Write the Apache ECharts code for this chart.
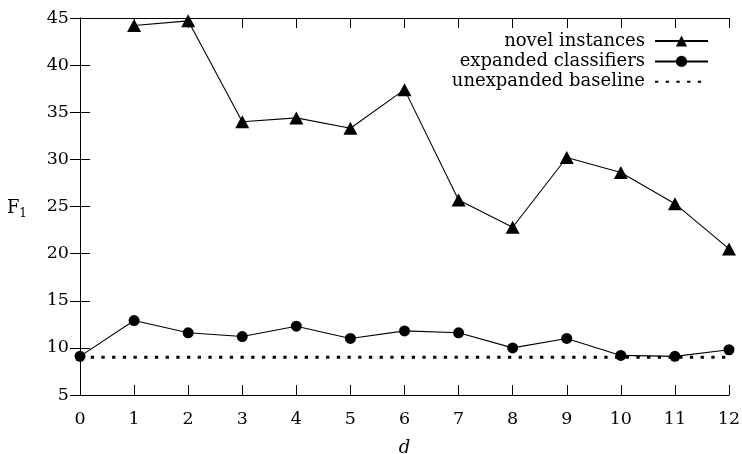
<!DOCTYPE html>
<html>
<head>
<meta charset="utf-8">
<script src="https://cdn.jsdelivr.net/npm/echarts@6/dist/echarts.min.js"></script>
<style>
html,body{margin:0;padding:0;background:#fff;}
#chart{width:742px;height:454px;}
</style>
</head>
<body>
<div id="chart"></div>
<script>
// ---- data ----
const dValues = [0, 1, 2, 3, 4, 5, 6, 7, 8, 9, 10, 11, 12];
const novelInstances = [null, 44.2, 44.7, 34.0, 34.4, 33.3, 37.4, 25.7, 22.8, 30.2, 28.6, 25.3, 20.5];
const expandedClassifiers = [9.1, 12.9, 11.6, 11.2, 12.3, 11.0, 11.8, 11.6, 10.0, 11.0, 9.2, 9.1, 9.8];
const unexpandedBaseline = [9.0, 9.0, 9.0, 9.0, 9.0, 9.0, 9.0, 9.0, 9.0, 9.0, 9.0, 9.0, 9.0];
const seriesNames = ['novel instances', 'expanded classifiers', 'unexpanded baseline'];
const yTicks = { min: 5, max: 45, step: 5 };
const xTicks = { min: 0, max: 12, step: 1 };

function pairs(xs, ys) {
  return xs.map((x, i) => [x, ys[i]]).filter(p => p[1] !== null);
}

const FONT = 'DejaVu Serif';
const FS = 17.5;
const axisLine = { show: true, lineStyle: { color: '#000', width: 1 } };
const tick = { show: true, inside: true, length: 10, lineStyle: { color: '#000', width: 1 } };

const chart = echarts.init(document.getElementById('chart'), null, { renderer: 'canvas' });
chart.setOption({
  animation: false,
  backgroundColor: '#fff',
  textStyle: { fontFamily: FONT, color: '#000' },
  grid: { left: 80, right: 13, top: 18, bottom: 59, containLabel: false, outerBoundsMode: 'none' },
  legend: {
    orient: 'vertical',
    align: 'right',
    right: 33,
    top: 32,
    padding: 0,
    itemWidth: 53,
    itemHeight: 14,
    itemGap: 2.4,
    textStyle: { fontFamily: FONT, fontSize: 18, color: '#000', padding: [0, 5, 0, 0] },
    data: seriesNames
  },
  xAxis: [
    {
      type: 'value', position: 'bottom',
      min: xTicks.min, max: xTicks.max, interval: xTicks.step,
      name: 'd', nameLocation: 'middle', nameGap: 44,
      nameTextStyle: { fontFamily: FONT, fontSize: 18, fontStyle: 'italic', color: '#000' },
      axisLine: axisLine, axisTick: tick,
      axisLabel: { fontFamily: FONT, fontSize: FS, color: '#000', margin: 15 },
      splitLine: { show: false }
    },
    {
      type: 'value', position: 'top',
      min: xTicks.min, max: xTicks.max, interval: xTicks.step,
      axisLine: axisLine, axisTick: tick,
      axisLabel: { show: false }, splitLine: { show: false }
    }
  ],
  yAxis: [
    {
      type: 'value', position: 'left',
      min: yTicks.min, max: yTicks.max, interval: yTicks.step,
      name: '{f|F}{s|1}', nameLocation: 'middle', nameRotate: 0, nameGap: 53,
      nameTextStyle: {
        color: '#000',
        rich: {
          f: { fontFamily: FONT, fontSize: 18, color: '#000', padding: [4, 0, 0, 0] },
          s: { fontFamily: FONT, fontSize: 12, color: '#000', padding: [14, 0, 0, 0] }
        }
      },
      axisLine: axisLine, axisTick: tick,
      axisLabel: { fontFamily: FONT, fontSize: FS, color: '#000', margin: 11 },
      splitLine: { show: false }
    },
    {
      type: 'value', position: 'right',
      min: yTicks.min, max: yTicks.max, interval: yTicks.step,
      axisLine: axisLine, axisTick: tick,
      axisLabel: { show: false }, splitLine: { show: false }
    }
  ],
  series: [
    {
      name: seriesNames[2], type: 'line', xAxisIndex: 0, yAxisIndex: 0,
      data: pairs(dValues, unexpandedBaseline),
      symbol: 'none', z: 1,
      lineStyle: { color: '#000', width: 3, type: [3.3, 7.4], cap: 'butt' },
      itemStyle: { color: '#000', opacity: 0 }
    },
    {
      name: seriesNames[0], type: 'line', xAxisIndex: 0, yAxisIndex: 0,
      data: pairs(dValues, novelInstances),
      symbol: 'triangle', symbolSize: [14, 13], z: 3,
      lineStyle: { color: '#000', width: 1.1 },
      itemStyle: { color: '#000' }
    },
    {
      name: seriesNames[1], type: 'line', xAxisIndex: 0, yAxisIndex: 0,
      data: pairs(dValues, expandedClassifiers),
      symbol: 'circle', symbolSize: 11, z: 3,
      lineStyle: { color: '#000', width: 1.1 },
      itemStyle: { color: '#000' }
    }
  ]
});
</script>
</body>
</html>
